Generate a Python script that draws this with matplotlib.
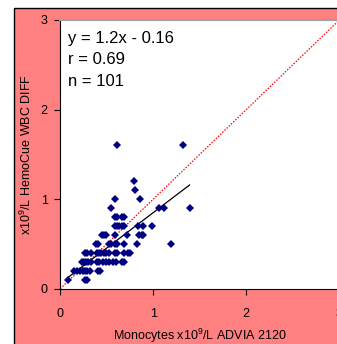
import numpy as np
import matplotlib
matplotlib.use("Agg")
import matplotlib.pyplot as plt
from matplotlib.patches import Rectangle

plt.rcParams["font.family"] = ["Liberation Sans", "DejaVu Sans"]
plt.rcParams["mathtext.default"] = "regular"

# Monocytes, ADVIA 2120 (x) vs HemoCue WBC DIFF (y), grouped by y level
rows = {
    0.1: [0.08, 0.27, 0.29],
    0.2: [0.15, 0.18, 0.21, 0.24, 0.27, 0.29, 0.32, 0.41, 0.43],
    0.3: [0.23, 0.25, 0.28, 0.30, 0.33, 0.39, 0.42, 0.46, 0.49, 0.52,
          0.57, 0.60, 0.66, 0.68],
    0.4: [0.27, 0.29, 0.33, 0.39, 0.42, 0.44, 0.47, 0.49, 0.52, 0.59,
          0.61, 0.68, 0.73, 0.75],
    0.5: [0.38, 0.40, 0.52, 0.54, 0.59, 0.61, 0.68, 0.82, 1.19],
    0.6: [0.445, 0.47, 0.49, 0.585, 0.72, 0.85, 0.875, 0.89],
    0.7: [0.585, 0.61, 0.63, 0.66, 0.685, 0.84, 0.885, 0.99],
    0.8: [0.585, 0.61, 0.66, 0.69],
    0.9: [0.545, 1.065, 1.11, 1.39],
    1.0: [0.585, 0.86],
    1.1: [0.80],
    1.2: [0.79],
    1.6: [0.61, 1.32],
}
advia = np.array([x for y, xs in rows.items() for x in xs])
hemocue = np.array([y for y, xs in rows.items() for x in xs])

# drawn regression line
fit_slope = 0.79
fit_intercept = 0.06
stats_text = ["y = 1.2x - 0.16", "r = 0.69", "n = 101"]

ticks = [0, 1, 2, 3]

fig = plt.figure(figsize=(3.37, 3.44), dpi=100, facecolor="white")
bg = Rectangle((13.5 / 337, -0.1), 1.2, (344 - 7.5) / 344 + 0.1,
               transform=fig.transFigure, facecolor="#FF8080",
               edgecolor="black", linewidth=1.0, zorder=-5)
fig.patches.append(bg)

ax = fig.add_axes([60.3 / 337, 55.3 / 344, 279 / 337, 268.7 / 344])
ax.set_zorder(1)
ax.set_facecolor("white")

ax.plot(ticks, ticks, color="red", linestyle=(0, (1.2, 1.2)), linewidth=0.9, zorder=2)
fx = np.array([advia.min(), advia.max()])
ax.plot(fx, fit_slope * fx + fit_intercept, color="black", linewidth=0.9, zorder=3)
ax.plot(advia, hemocue, linestyle="none", marker="D", markersize=4.1,
        color="#000080", markeredgewidth=0, zorder=4)

ax.set_xlim(0, 3)
ax.set_ylim(0, 3)
ax.set_xticks(ticks)
ax.set_yticks(ticks)
ax.tick_params(axis="both", direction="out", length=4, width=0.8,
               labelsize=9, colors="black", top=False, right=False)
ax.tick_params(axis="x", pad=10)
ax.tick_params(axis="y", pad=5)

ax.spines["right"].set_visible(False)
ax.spines["top"].set_color("#a0a0a0")
ax.spines["top"].set_linewidth(1.5)
ax.spines["left"].set_linewidth(0.8)
ax.spines["bottom"].set_linewidth(0.8)

ax.set_xlabel("Monocytes x10$^9$/L ADVIA 2120", fontsize=9)
ax.set_ylabel("x10$^9$/L HemoCue WBC DIFF", fontsize=9)
ax.xaxis.set_label_coords(0.50, -0.14)
ax.yaxis.set_label_coords(-0.094, 0.50)

for i, line in enumerate(stats_text):
    ax.text(0.028, 0.916 - i * 0.08, line, transform=ax.transAxes,
            fontsize=12, va="baseline", ha="left")

fig.savefig("out.png", dpi=100)
